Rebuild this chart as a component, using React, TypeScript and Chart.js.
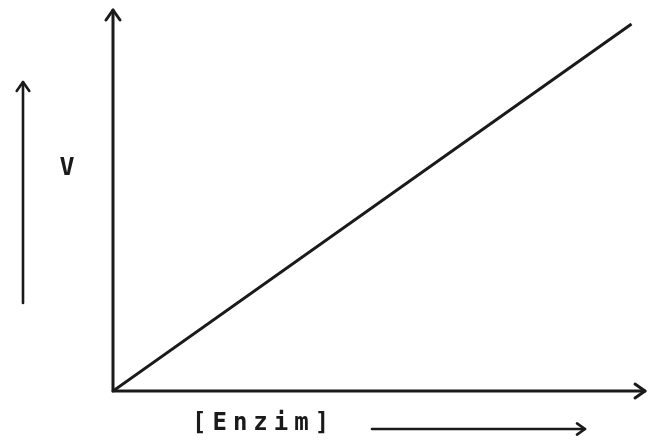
import React, { useEffect, useRef } from "react";
import { Chart, registerables } from "chart.js";

Chart.register(...registerables);

// Data: reaction velocity rises linearly with enzyme concentration
const enzymeConc = [0, 10];
const velocity = [0, 10];
const xAxisLabel = "[Enzim]";
const yAxisLabel = "V";

const INK = "#1a1a1a";

function chevron(ctx: CanvasRenderingContext2D, tx: number, ty: number, dir: "up" | "right", size: number) {
  ctx.beginPath();
  if (dir === "up") {
    ctx.moveTo(tx - size * 0.7, ty + size);
    ctx.lineTo(tx, ty);
    ctx.lineTo(tx + size * 0.7, ty + size);
  } else {
    ctx.moveTo(tx - size, ty - size * 0.7);
    ctx.lineTo(tx, ty);
    ctx.lineTo(tx - size, ty + size * 0.7);
  }
  ctx.stroke();
}

const sketchPlugin = {
  id: "sketchAxes",
  beforeDatasetsDraw(chart: any) {
    const { ctx, chartArea, scales } = chart;
    const x0 = scales.x.getPixelForValue(0);
    const y0 = scales.y.getPixelForValue(0);
    ctx.save();
    ctx.strokeStyle = INK;
    ctx.lineWidth = 3;
    ctx.lineCap = "round";
    ctx.lineJoin = "round";
    // y axis
    ctx.beginPath();
    ctx.moveTo(x0, y0);
    ctx.lineTo(x0, chartArea.top);
    ctx.stroke();
    chevron(ctx, x0, chartArea.top, "up", 10);
    // x axis
    ctx.beginPath();
    ctx.moveTo(x0, y0);
    ctx.lineTo(chartArea.right, y0);
    ctx.stroke();
    chevron(ctx, chartArea.right, y0, "right", 10);

    // left direction arrow for V
    ctx.lineWidth = 2.6;
    const ax = x0 - 90;
    ctx.beginPath();
    ctx.moveTo(ax, y0 - 88);
    ctx.lineTo(ax, y0 - 309);
    ctx.stroke();
    chevron(ctx, ax, y0 - 309, "up", 9);

    // arrow under x axis label
    const by = y0 + 38;
    ctx.beginPath();
    ctx.moveTo(x0 + 259, by);
    ctx.lineTo(x0 + 472, by);
    ctx.stroke();
    chevron(ctx, x0 + 472, by, "right", 8);

    // labels
    ctx.fillStyle = INK;
    ctx.font = "bold 24px 'DejaVu Sans Mono'";
    ctx.textBaseline = "middle";
    ctx.textAlign = "left";
    (ctx as any).letterSpacing = "6px";
    ctx.fillText(xAxisLabel, x0 + 79, y0 + 33);
    (ctx as any).letterSpacing = "0px";
    ctx.textAlign = "center";
    ctx.font = "bold 25px 'DejaVu Sans Mono'";
    ctx.fillText(yAxisLabel, x0 - 46, y0 - 223);
    ctx.restore();
  },
};

export default function App() {
  const ref = useRef<HTMLCanvasElement>(null);
  useEffect(() => {
    if (!ref.current) return;
    const chart = new Chart(ref.current, {
      type: "line",
      data: {
        datasets: [
          {
            data: enzymeConc.map((x, i) => ({ x, y: velocity[i] })),
            borderColor: INK,
            borderWidth: 3,
            pointRadius: 0,
            tension: 0,
          },
        ],
      },
      options: {
        responsive: false,
        animation: false,
        layout: { padding: { left: 113, right: 4, top: 10, bottom: 50 } },
        plugins: { legend: { display: false }, tooltip: { enabled: false } },
        scales: {
          x: { type: "linear", min: 0, max: 10.26, display: false },
          y: { type: "linear", min: 0, max: 10.38, display: false },
        },
      },
      plugins: [sketchPlugin],
    });
    return () => chart.destroy();
  }, []);
  return (
    <div style={{ position: "fixed", left: 0, top: 0, width: 649, height: 441, background: "#fff" }}>
      <canvas ref={ref} width={649} height={441} />
    </div>
  );
}
